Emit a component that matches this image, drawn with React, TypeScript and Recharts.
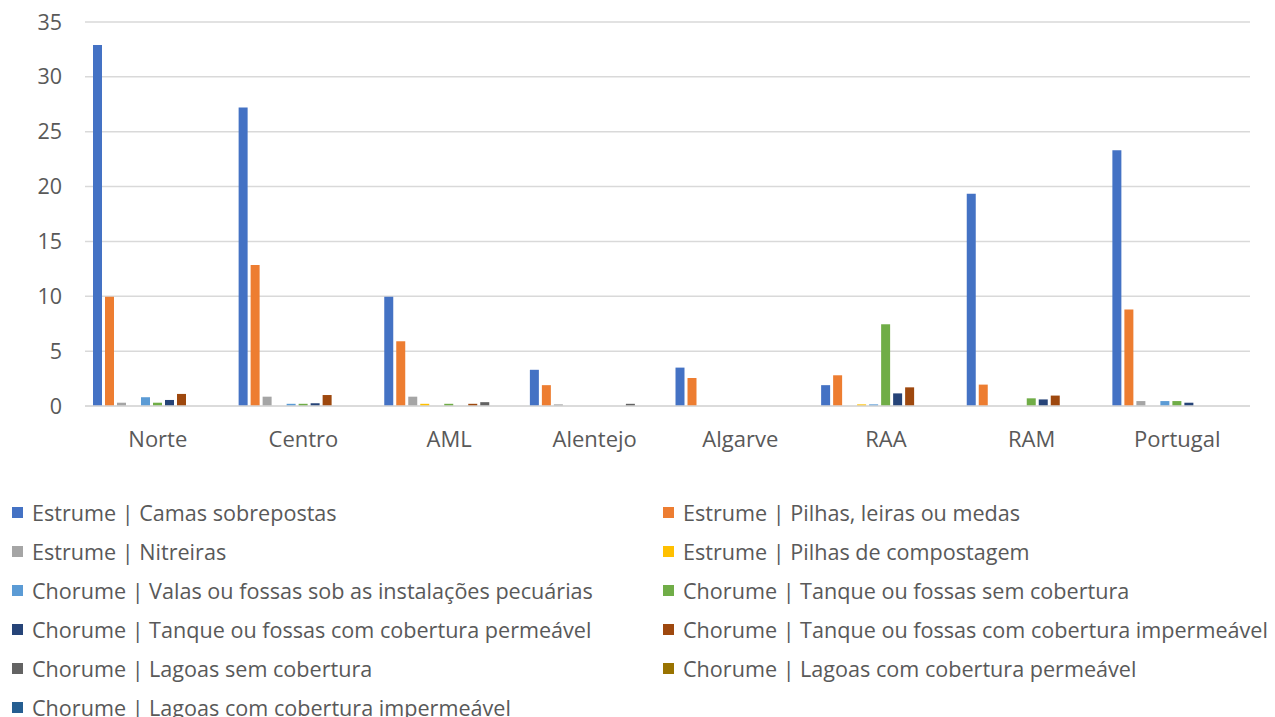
import React from 'react'
import { BarChart, Bar, XAxis, YAxis, CartesianGrid } from 'recharts'

const regions = ['Norte', 'Centro', 'AML', 'Alentejo', 'Algarve', 'RAA', 'RAM', 'Portugal']

const seriesNames = [
  'Estrume | Camas sobrepostas',
  'Estrume | Pilhas, leiras ou medas',
  'Estrume | Nitreiras',
  'Estrume | Pilhas de compostagem',
  'Chorume | Valas ou fossas sob as instalações pecuárias',
  'Chorume | Tanque ou fossas sem cobertura',
  'Chorume | Tanque ou fossas com cobertura permeável',
  'Chorume | Tanque ou fossas com cobertura impermeável',
  'Chorume | Lagoas sem cobertura',
  'Chorume | Lagoas com cobertura permeável',
  'Chorume | Lagoas com cobertura impermeável',
]

const seriesColors = ['#4472C4', '#ED7D31', '#A5A5A5', '#FFC000', '#5B9BD5', '#70AD47', '#264478', '#9E480E', '#636363', '#997300', '#255E91']

// one array per series, in region order
const camasSobrepostas = [32.9, 27.2, 9.95, 3.3, 3.5, 1.9, 19.35, 23.3]
const pilhasLeiras = [9.95, 12.85, 5.9, 1.9, 2.55, 2.8, 1.95, 8.8]
const nitreiras = [0.3, 0.85, 0.85, 0.15, 0, 0, 0, 0.45]
const pilhasCompostagem = [0, 0, 0.2, 0, 0, 0.15, 0, 0]
const valasFossas = [0.8, 0.2, 0, 0, 0, 0.15, 0, 0.45]
const tanqueSemCobertura = [0.3, 0.2, 0.2, 0, 0, 7.45, 0.7, 0.45]
const tanquePermeavel = [0.55, 0.25, 0, 0, 0, 1.15, 0.6, 0.3]
const tanqueImpermeavel = [1.1, 1.0, 0.2, 0, 0, 1.7, 0.95, 0]
const lagoasSemCobertura = [0, 0, 0.35, 0.2, 0, 0, 0, 0]
const lagoasPermeavel = [0, 0, 0, 0, 0, 0, 0, 0]
const lagoasImpermeavel = [0, 0, 0, 0, 0, 0, 0, 0]

const seriesValues = [
  camasSobrepostas, pilhasLeiras, nitreiras, pilhasCompostagem, valasFossas,
  tanqueSemCobertura, tanquePermeavel, tanqueImpermeavel, lagoasSemCobertura,
  lagoasPermeavel, lagoasImpermeavel,
]

const yTicks = [0, 5, 10, 15, 20, 25, 30, 35]

const data = regions.map((r, i) => {
  const row: any = { region: r }
  seriesValues.forEach((vals, si) => { row[`s${si}`] = vals[i] })
  return row
})

const FONT = '"Open Sans", sans-serif'

export default function App() {
  return (
    <div style={{ position: 'absolute', left: 0, top: 0, width: 1275, height: 717, background: '#fff', overflow: 'hidden', fontFamily: FONT }}>
      <BarChart width={1275} height={470} data={data} margin={{ top: 22, right: 25, left: 0, bottom: 34 }} barSize={9} barGap={3}>
        <CartesianGrid vertical={false} stroke="#d9d9d9" strokeWidth={1.5} />
        <XAxis dataKey="region" height={30} tickLine={false} axisLine={{ stroke: '#d9d9d9', strokeWidth: 1.5 }}
          tick={{ fill: '#595959', fontSize: 22, fontFamily: FONT }} tickMargin={19} />
        <YAxis width={85} domain={[0, 35]} ticks={yTicks} tickLine={false} axisLine={false} tickSize={0} tickMargin={23}
          tick={{ fill: '#595959', fontSize: 21.5, fontFamily: FONT }} />
        {seriesNames.map((name, i) => (
          <Bar key={i} dataKey={`s${i}`} name={name} fill={seriesColors[i]} isAnimationActive={false} />
        ))}
      </BarChart>
      {seriesNames.map((name, i) => {
        const col = i % 2
        const row = Math.floor(i / 2)
        return (
          <div key={i} style={{ position: 'absolute', left: col === 0 ? 12 : 663, top: 493 + row * 39, height: 39, display: 'flex', alignItems: 'center', whiteSpace: 'nowrap', fontSize: 21.6, color: '#595959' }}>
            <div style={{ width: 11, height: 11, background: seriesColors[i], marginRight: 9 }} />
            <span>{name}</span>
          </div>
        )
      })}
    </div>
  )
}
